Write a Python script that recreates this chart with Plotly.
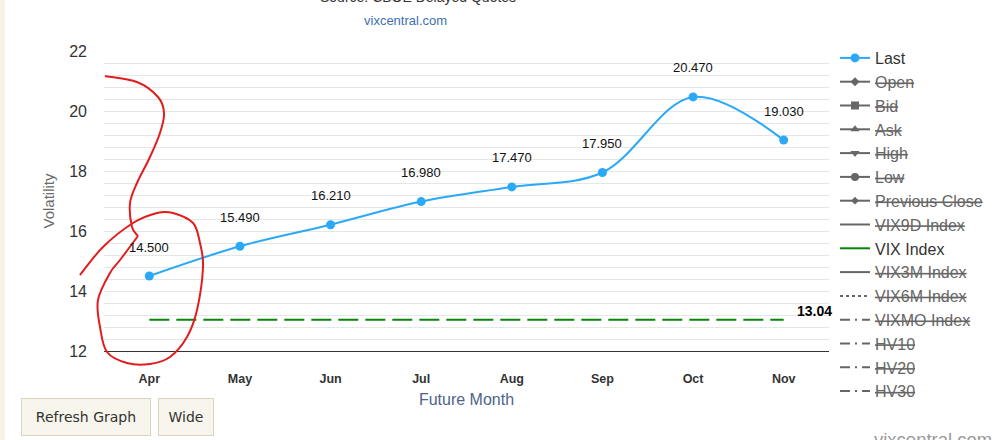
import plotly.graph_objects as go

# data
months = ['Apr', 'May', 'Jun', 'Jul', 'Aug', 'Sep', 'Oct', 'Nov']
last = [14.500, 15.490, 16.210, 16.980, 17.470, 17.950, 20.470, 19.030]
vix_index = [13.04, 13.04, 13.04, 13.04, 13.04, 13.04, 13.04, 13.04]
no_values = [None, None, None, None, None, None, None, None]

hidden_series = ['Open', 'Bid', 'Ask', 'High', 'Low', 'Previous Close',
                 'VIX9D Index', 'VIX3M Index', 'VIX6M Index', 'VIXMO Index',
                 'HV10', 'HV20', 'HV30']

# red hand drawn scribble over the chart, pixel positions
scribble_a = [(105, 76), (137, 82), (158, 97), (164, 113), (160, 133), (150, 157),
              (137, 183), (130, 203), (132, 227), (138, 236)]
scribble_b = [(138, 236), (120, 260), (110, 273), (98, 300), (100, 327), (107, 352),
              (127, 363), (150, 364), (170, 357), (187, 337), (197, 310), (203, 267),
              (200, 243), (193, 223), (173, 213), (157, 213), (133, 223), (103, 247),
              (80, 275)]

W, H = 1002, 440
ML, MR, MT, MB = 104, 173, 51, 89
PW, PH = W - ML - MR, H - MT - MB

FONT = 'Liberation Sans, Arial, sans-serif'
BLUE = '#2ba9f7'
GREEN = '#0a840a'
GREY = '#666666'


def px_x(px):
    return (px - ML) / PW


def px_y(py):
    return 1 - (py - MT) / PH


def smooth_path(pts):
    # catmull-rom through the points, written as svg cubic segments
    p = [(px_x(x), px_y(y)) for x, y in pts]
    d = 'M %.4f,%.4f' % p[0]
    for i in range(len(p) - 1):
        p0 = p[i - 1] if i > 0 else p[i]
        p1, p2 = p[i], p[i + 1]
        p3 = p[i + 2] if i + 2 < len(p) else p[i + 1]
        c1 = (p1[0] + (p2[0] - p0[0]) / 6, p1[1] + (p2[1] - p0[1]) / 6)
        c2 = (p2[0] - (p3[0] - p1[0]) / 6, p2[1] - (p3[1] - p1[1]) / 6)
        d += ' C %.4f,%.4f %.4f,%.4f %.4f,%.4f' % (c1 + c2 + p2)
    return d


def strike(name):
    return '<span style="text-decoration:line-through;color:%s">%s</span>' % (GREY, name)


fig = go.Figure()

fig.add_trace(go.Scatter(x=months, y=last, name='Last', mode='lines+markers',
                         line=dict(color=BLUE, width=2, shape='spline'),
                         marker=dict(color=BLUE, size=9)))

hidden_style = {
    'Open': dict(mode='lines+markers', symbol='diamond', size=7, dash='solid'),
    'Bid': dict(mode='lines+markers', symbol='square', size=8, dash='solid'),
    'Ask': dict(mode='lines+markers', symbol='triangle-up', size=8, dash='solid'),
    'High': dict(mode='lines+markers', symbol='triangle-down', size=8, dash='solid'),
    'Low': dict(mode='lines+markers', symbol='circle', size=8, dash='solid'),
    'Previous Close': dict(mode='lines+markers', symbol='diamond', size=6, dash='solid'),
    'VIX9D Index': dict(mode='lines', dash='solid'),
    'VIX3M Index': dict(mode='lines', dash='solid'),
    'VIX6M Index': dict(mode='lines', dash='dot'),
    'VIXMO Index': dict(mode='lines', dash='10px,5px,2px,5px'),
    'HV10': dict(mode='lines', dash='10px,5px,2px,5px'),
    'HV20': dict(mode='lines', dash='10px,5px,2px,5px'),
    'HV30': dict(mode='lines', dash='10px,5px,2px,5px'),
}


def add_hidden(name):
    s = hidden_style[name]
    fig.add_trace(go.Scatter(x=months, y=no_values, name=strike(name), mode=s['mode'],
                             line=dict(color=GREY, width=2, dash=s['dash']),
                             marker=dict(color=GREY, size=s.get('size', 6),
                                         symbol=s.get('symbol', 'circle'))))


for n in hidden_series[:7]:
    add_hidden(n)

# VIX Index: dashed on the plot, solid swatch in the legend
fig.add_trace(go.Scatter(x=months, y=vix_index, mode='lines', showlegend=False,
                         line=dict(color=GREEN, width=2, dash='20px,7px')))
fig.add_trace(go.Scatter(x=months, y=no_values, name='VIX Index', mode='lines',
                         line=dict(color=GREEN, width=2)))

for n in hidden_series[7:]:
    add_hidden(n)

annotations = []
for m, v in zip(months, last):
    annotations.append(dict(x=m, y=v, text='%.3f' % v, showarrow=False, yshift=29,
                            font=dict(size=13, color='#111111', family=FONT)))
annotations.append(dict(x=months[-1], y=vix_index[-1], text='%.2f' % vix_index[-1],
                        showarrow=False, xanchor='left', xshift=11, yshift=9,
                        font=dict(size=14, color='#000000', family=FONT, weight='bold')))

# titles and page bits
annotations.append(dict(xref='paper', yref='paper', x=px_x(418), y=px_y(-3),
                        yanchor='middle', text='Source: CBOE Delayed Quotes',
                        showarrow=False,
                        font=dict(size=14, color='#333333', family=FONT)))
annotations.append(dict(xref='paper', yref='paper', x=px_x(405), y=px_y(20),
                        yanchor='middle', text='vixcentral.com', showarrow=False,
                        font=dict(size=13, color='#3d6fb4', family=FONT)))
annotations.append(dict(xref='paper', yref='paper', x=px_x(872), y=px_y(427),
                        xanchor='left', yanchor='top', text='vixcentral.com',
                        showarrow=False,
                        font=dict(size=18.5, color='#9a9a9a', family=FONT)))
annotations.append(dict(xref='paper', yref='paper', x=px_x(21), y=px_y(398),
                        xanchor='left', yanchor='top', text='Refresh Graph', showarrow=False,
                        width=110, height=18, borderpad=9, bgcolor='#f7f5ec',
                        bordercolor='#d9d4bd', borderwidth=1,
                        font=dict(size=14, color='#333333', family='DejaVu Sans')))
annotations.append(dict(xref='paper', yref='paper', x=px_x(158), y=px_y(398),
                        xanchor='left', yanchor='top', text='Wide', showarrow=False,
                        width=36, height=18, borderpad=9, bgcolor='#f7f5ec',
                        bordercolor='#d9d4bd', borderwidth=1,
                        font=dict(size=14, color='#333333', family='DejaVu Sans')))

shapes = [
    dict(type='rect', xref='paper', yref='paper', x0=px_x(0), x1=px_x(5),
         y0=px_y(H), y1=px_y(0), fillcolor='#f5f3e7', line=dict(width=0), layer='below'),
    dict(type='path', xref='paper', yref='paper',
         path=smooth_path(scribble_a) + ' ' + smooth_path(scribble_b),
         line=dict(color='#e21d1d', width=2)),
]

fig.update_layout(
    width=W, height=H, autosize=False,
    margin=dict(l=ML, r=MR, t=MT, b=MB, pad=0),
    paper_bgcolor='white', plot_bgcolor='white',
    font=dict(family=FONT, color='#333333'),
    showlegend=True,
    legend=dict(x=px_x(835), y=px_y(41), xanchor='left', yanchor='top',
                maxheight=400,
                font=dict(size=16, color='#333333', family=FONT),
                bgcolor='rgba(0,0,0,0)', itemclick=False, itemdoubleclick=False),
    xaxis=dict(type='category', categoryorder='array', categoryarray=months,
               range=[-0.5, 7.5], showgrid=False, zeroline=False,
               showline=True, linecolor='#333333', linewidth=1, ticks='',
               ticklabelstandoff=16,
               tickfont=dict(size=12.5, color='#333333', family=FONT, weight='bold'),
               title=dict(text='Future Month', standoff=8,
                          font=dict(size=16, color='#4d6489', family=FONT))),
    yaxis=dict(range=[12, 22], tick0=12, dtick=2, showgrid=True,
               gridcolor='#e6e6e6', gridwidth=1, zeroline=False, showline=False,
               ticks='', ticklabelstandoff=16,
               tickfont=dict(size=16, color='#333333', family=FONT),
               minor=dict(tick0=12, dtick=0.4, showgrid=True, gridcolor='#e6e6e6',
                          gridwidth=1),
               title=dict(text='Volatility', standoff=10,
                          font=dict(size=15, color='#6a6a6a', family=FONT))),
    annotations=annotations,
    shapes=shapes,
)

fig.write_html('out.html', config={'displayModeBar': False},
               post_script="document.body.style.margin = '0';")
